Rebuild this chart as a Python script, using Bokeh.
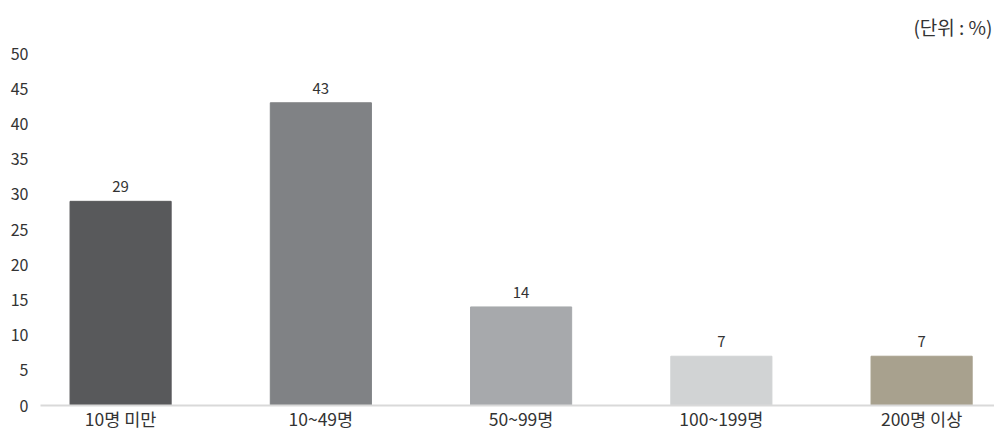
from bokeh.plotting import figure
from bokeh.models import ColumnDataSource, Range1d, FixedTicker, Title, CustomJSTickFormatter
from bokeh.core.properties import value
from bokeh.embed import file_html
from bokeh.resources import INLINE

categories = ["10명 미만", "10~49명", "50~99명", "100~199명", "200명 이상"]
values = [29, 43, 14, 7, 7]
colors = ["#58595b", "#808285", "#a7a9ac", "#d1d3d4", "#a8a18e"]
y_ticks = [0, 5, 10, 15, 20, 25, 30, 35, 40, 45, 50]
unit_text = "(단위 : %)"

FONT = "Noto Sans CJK KR"

xs = list(range(len(categories)))
src = ColumnDataSource(dict(x=xs, top=values, color=colors,
                            label=[str(v) for v in values]))

p = figure(width=994, height=433, output_backend="svg", toolbar_location=None,
           x_range=Range1d(-0.4, 4.364), y_range=Range1d(0, 50),
           min_border_left=40, min_border_right=0, min_border_top=0, min_border_bottom=0)

p.vbar(x="x", top="top", width=0.505, color="color", source=src)
p.text(x="x", y="top", text="label", source=src, text_align="center",
       text_baseline="bottom", y_offset=-9, text_font=value(FONT),
       text_font_size="15px", text_color="#333333")

p.outline_line_color = None
p.xgrid.grid_line_color = None
p.ygrid.grid_line_color = None

p.xaxis.ticker = FixedTicker(ticks=xs)
p.xaxis.formatter = CustomJSTickFormatter(args=dict(labels=categories),
                                          code="return labels[tick];")
p.xaxis.axis_line_color = "#d9d9d9"
p.xaxis.axis_line_width = 2
p.xaxis.major_tick_line_color = None
p.xaxis.minor_tick_line_color = None
p.xaxis.major_tick_out = 0
p.xaxis.major_tick_in = 0
p.xaxis.major_label_text_font = FONT
p.xaxis.major_label_text_font_size = "17.5px"
p.xaxis.major_label_text_color = "#333333"
p.xaxis.major_label_standoff = 0

p.yaxis.ticker = FixedTicker(ticks=y_ticks)
p.yaxis.axis_line_color = None
p.yaxis.major_tick_line_color = None
p.yaxis.minor_tick_line_color = None
p.yaxis.major_tick_out = 0
p.yaxis.major_tick_in = 0
p.yaxis.major_label_text_font = FONT
p.yaxis.major_label_text_font_size = "16px"
p.yaxis.major_label_text_color = "#333333"
p.yaxis.major_label_standoff = 12

t = Title(text=unit_text, align="right", vertical_align="top", text_font=FONT,
          text_font_size="19px", text_font_style="normal", text_color="#333333",
          offset=2, standoff=24)
p.add_layout(t, "above")

open("out.html", "w").write(file_html(p, INLINE))
